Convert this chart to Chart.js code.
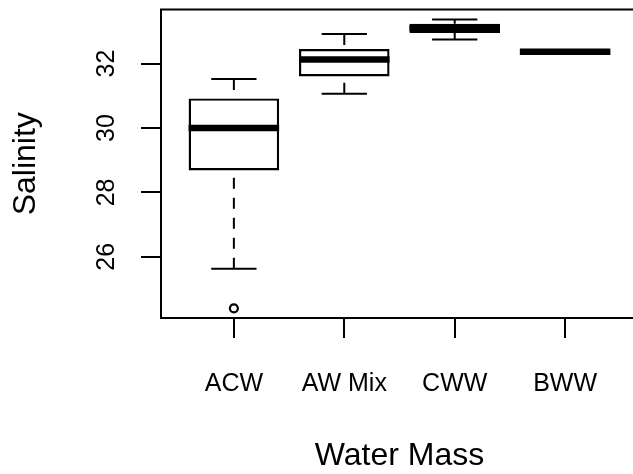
<!DOCTYPE html>
<html><head><meta charset="utf-8">
<script src="https://cdn.jsdelivr.net/npm/chart.js@4"></script>
<style>html,body{margin:0;padding:0;overflow:hidden;background:#fff;width:633px;height:474px}canvas{display:block}</style>
</head><body>
<canvas id="c" width="645" height="474"></canvas>
<script>
const categories = ['ACW', 'AW Mix', 'CWW', 'BWW'];
const whiskerLow = [25.63, 31.06, 32.75, 32.37];
const q1 = [28.68, 31.60, 32.95, 32.37];
const median = [30.00, 32.13, 33.10, 32.37];
const q3 = [30.92, 32.45, 33.24, 32.37];
const whiskerHigh = [31.52, 32.92, 33.37, 32.37];
const outliers = [[24.40], [], [], []];
const yTicks = [26, 28, 30, 32];
const xLabel = 'Water Mass';
const yLabel = 'Salinity';

const FONT = "'Liberation Sans', Arial, sans-serif";
const TXT = '#000';

const boxParts = {
  id: 'boxParts',
  afterDatasetsDraw(chart) {
    const ctx = chart.ctx, xs = chart.scales.x, ys = chart.scales.y;
    const bars = chart.getDatasetMeta(0).data;
    ctx.save();
    ctx.strokeStyle = '#000';
    ctx.lineCap = 'butt';
    categories.forEach((c, i) => {
      const x = xs.getPixelForValue(i + 1);
      const w = bars[i].width;
      const yLo = ys.getPixelForValue(whiskerLow[i]);
      const yQ1 = ys.getPixelForValue(q1[i]);
      const yQ3 = ys.getPixelForValue(q3[i]);
      const yHi = ys.getPixelForValue(whiskerHigh[i]);
      const yMed = ys.getPixelForValue(median[i]);
      ctx.lineWidth = 2;
      ctx.setLineDash([11, 9]);
      ctx.beginPath();
      ctx.moveTo(x, yLo); ctx.lineTo(x, yQ1);
      ctx.moveTo(x, yHi); ctx.lineTo(x, yQ3);
      ctx.stroke();
      ctx.setLineDash([]);
      ctx.beginPath();
      ctx.moveTo(x - w / 4, yLo); ctx.lineTo(x + w / 4, yLo);
      ctx.moveTo(x - w / 4, yHi); ctx.lineTo(x + w / 4, yHi);
      ctx.stroke();
      ctx.lineWidth = 6.5;
      ctx.beginPath();
      ctx.moveTo(x - w / 2, yMed); ctx.lineTo(x + w / 2, yMed);
      ctx.stroke();
    });
    const a = chart.chartArea;
    ctx.lineWidth = 2;
    ctx.strokeRect(a.left, a.top, a.right - a.left, a.bottom - a.top);
    ctx.restore();
  }
};

const boxData = categories.map((c, i) => ({ x: i + 1, y: [q1[i], q3[i]] }));
const outlierData = [];
outliers.forEach((arr, i) => arr.forEach(v => outlierData.push({ x: i + 1, y: v })));

new Chart(document.getElementById('c'), {
  type: 'bar',
  data: {
    datasets: [
      {
        data: boxData,
        backgroundColor: '#fff',
        borderColor: '#000',
        borderWidth: 2.4,
        borderSkipped: false,
        barPercentage: 0.82,
        categoryPercentage: 1
      },
      {
        type: 'scatter',
        data: outlierData,
        pointStyle: 'circle',
        pointRadius: 4,
        pointBorderWidth: 2.2,
        pointBorderColor: '#000',
        pointBackgroundColor: '#fff'
      }
    ]
  },
  options: {
    responsive: false,
    animation: false,
    devicePixelRatio: 1,
    layout: { padding: { left: 0, top: 9.5, right: 7, bottom: 0 } },
    plugins: { legend: { display: false }, tooltip: { enabled: false } },
    scales: {
      x: {
        type: 'linear', min: 0.34, max: 4.66, offset: false,
        afterBuildTicks: s => { s.ticks = categories.map((c, i) => ({ value: i + 1 })); },
        afterFit: s => { s.height = 156; s.paddingLeft = 0; s.paddingRight = 0; },
        grid: { offset: false, drawOnChartArea: false, drawTicks: true, tickLength: 20, color: '#000', lineWidth: 2 },
        border: { display: false },
        ticks: {
          callback: v => categories[v - 1],
          font: { family: FONT, size: 25 }, color: TXT, padding: 31,
          minRotation: 0, maxRotation: 0, autoSkip: false
        },
        title: { display: true, text: xLabel, color: TXT, font: { family: FONT, size: 32, lineHeight: 1 }, padding: { top: 0, bottom: 2 } }
      },
      y: {
        type: 'linear', min: 24.1, max: 33.68,
        afterBuildTicks: s => { s.ticks = yTicks.map(v => ({ value: v })); },
        afterFit: s => { s.width = 161; s.paddingTop = 0; s.paddingBottom = 0; },
        grid: { drawOnChartArea: false, drawTicks: true, tickLength: 20, color: '#000', lineWidth: 2 },
        border: { display: false },
        ticks: {
          font: { family: FONT, size: 25 }, color: TXT, padding: 20,
          minRotation: 90, maxRotation: 90, crossAlign: 'center'
        },
        title: { display: true, text: yLabel, color: TXT, font: { family: FONT, size: 32, lineHeight: 1 }, padding: { top: 10, bottom: 0 } }
      }
    }
  },
  plugins: [boxParts]
});
</script>
</body></html>
